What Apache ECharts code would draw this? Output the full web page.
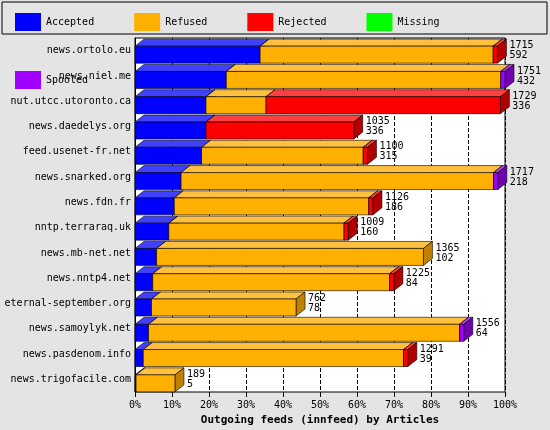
<!DOCTYPE html><html><head><meta charset="utf-8">
<script src="https://cdn.jsdelivr.net/npm/echarts@6/dist/echarts.min.js"></script>
<style>body{margin:0;background:#e4e4e4}#c{width:550px;height:430px}</style></head><body><div id="c"></div>
<script>
const categories=["news.ortolo.eu","news.niel.me","nut.utcc.utoronto.ca","news.daedelys.org","feed.usenet-fr.net","news.snarked.org","news.fdn.fr","nntp.terraraq.uk","news.mb-net.net","news.nntp4.net","eternal-september.org","news.samoylyk.net","news.pasdenom.info","news.trigofacile.com"];
const totals=[1715,1751,1729,1035,1100,1717,1126,1009,1365,1225,762,1556,1291,189];
const accepted=[592,432,336,336,315,218,186,160,102,84,78,64,39,5];
const refused=[1103,1299,284,0,765,1479,920,829,1263,1121,684,1472,1232,184];
const rejected=[20,0,1109,699,20,0,20,20,0,20,0,0,20,0];
const missing=[0,0,0,0,0,0,0,0,0,0,0,0,0,0];
const spooled=[0,20,0,0,0,20,0,0,0,0,0,20,0,0];
const tickLabels=["0%","10%","20%","30%","40%","50%","60%","70%","80%","90%","100%"];
const maxTotal=1751;
const names=["Accepted","Refused","Rejected","Missing","Spooled"];
const colors=["#0000ff","#ffb000","#ff0000","#00ff00","#a000ff"];
const tops=["#4040ff","#ffc040","#ff4040","#40ff40","#b840ff"];
const sides=["#0000b0","#c08000","#b00000","#00b000","#7000b0"];
const arrs=[accepted,refused,rejected,missing,spooled];
const D=9,D2=7;
const series=[];
const cum=categories.map(()=>0);
arrs.forEach((a,k)=>{
  const data=a.map((v,i)=>{const s=cum[i];cum[i]+=v;return [i,s,s+v];});
  series.push({type:'custom',name:names[k],itemStyle:{color:colors[k]},data:data,encode:{y:0,x:[1,2]},
    renderItem:function(p,api){
      const y=api.value(0),s=api.value(1),e=api.value(2);
      if(e-s<=0)return;
      const a0=api.coord([s,y]),a1=api.coord([e,y]);
      const h=17;
      const x0=a0[0],x1=a1[0],t=a0[1]-h/2+4,b=t+h;
      const ls={stroke:'#000',lineWidth:0.6};
      return {type:'group',children:[
        {type:'polygon',shape:{points:[[x0,t],[x0+D,t-D2],[x1+D,t-D2],[x1,t]]},style:Object.assign({fill:tops[k]},ls)},
        {type:'polygon',shape:{points:[[x1,t],[x1+D,t-D2],[x1+D,b-D2],[x1,b]]},style:Object.assign({fill:sides[k]},ls)},
        {type:'rect',shape:{x:x0,y:t,width:x1-x0,height:b-t},style:Object.assign({fill:colors[k]},ls)}
      ]};
    }});
});
series.push({type:'custom',name:'lbl',silent:true,data:totals.map((t,i)=>[i,t,accepted[i]]),encode:{y:0,x:1},
  renderItem:function(p,api){
    const y=api.value(0),c=api.coord([api.value(1),y]);
    return {type:'text',style:{x:c[0]+D+3,y:c[1]-10,text:api.value(1)+'\n'+api.value(2),font:'10px "DejaVu Sans Mono"',fill:'#000',lineHeight:10}};
  }});
const chart=echarts.init(document.getElementById('c'));
chart.setOption({
  animation:false,backgroundColor:'#e4e4e4',
  textStyle:{fontFamily:'DejaVu Sans Mono'},
  legend:{data:names,top:8,left:10,itemGap:40,itemWidth:26,itemHeight:18,textStyle:{fontSize:10,color:'#000'},icon:'rect'},
  grid:{left:135,right:45,top:38,bottom:38,containLabel:false,outerBoundsMode:'none'},
  xAxis:{type:'value',min:0,max:maxTotal,interval:maxTotal/10,
    name:'Outgoing feeds (innfeed) by Articles',nameLocation:'middle',nameGap:22,nameTextStyle:{fontWeight:'bold',fontSize:11,color:'#000'},
    axisLabel:{fontSize:10,color:'#000',formatter:(v)=>tickLabels[Math.round(v/maxTotal*10)]},
    axisLine:{lineStyle:{color:'#000'}},axisTick:{show:true,lineStyle:{color:'#000'}},
    splitLine:{show:true,lineStyle:{color:'#000',type:'dashed'}}},
  yAxis:{type:'category',data:categories,inverse:true,axisLabel:{fontSize:10,color:'#000',margin:4},
    axisLine:{lineStyle:{color:'#000'}},axisTick:{show:false}},
  graphic:[{type:'rect',shape:{x:135,y:38,width:370,height:354},style:{fill:'#fff',stroke:'#000'},z:-10,silent:true},
           {type:'rect',shape:{x:2,y:2,width:545,height:32},style:{fill:'none',stroke:'#000'},silent:true}],
  series:series
});
</script></body></html>
